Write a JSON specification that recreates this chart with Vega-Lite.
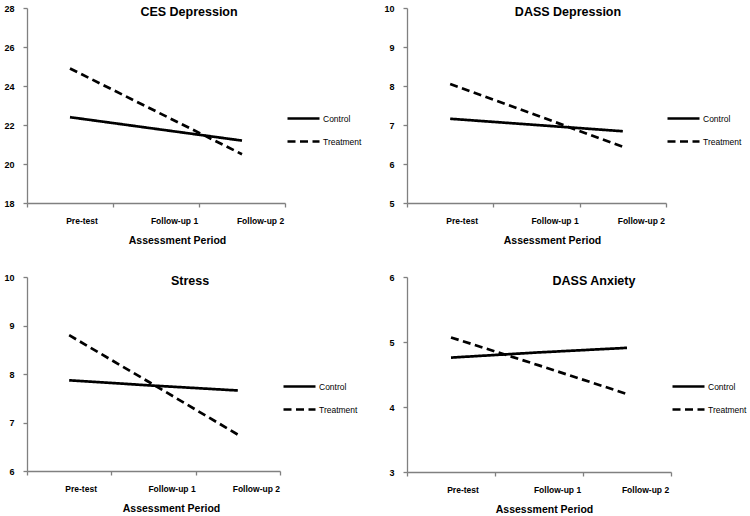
{
  "$schema": "https://vega.github.io/schema/vega-lite/v6.json",
  "padding": {"left": 3, "top": 4, "right": 0, "bottom": 0},
  "background": "white",
  "config": {
    "font": "Liberation Sans",
    "view": {"stroke": null},
    "axis": {"grid": false, "domainColor": "#808080", "tickColor": "#808080", "tickSize": 4, "labelColor": "#000", "titleColor": "#000", "labelFontWeight": "bold", "domainWidth": 1.3, "tickWidth": 1.3},
    "axisX": {"tickBand": "extent", "labelAngle": 0, "labelFontSize": 8.5, "labelPadding": 9, "labelOffset": {"condition": {"test": "datum.value === 'Pre-test'", "value": 11.5}, "value": 18}, "titleFontSize": 10.5, "titleFontWeight": "bold", "titleY": 37, "titleBaseline": "middle"},
    "axisY": {"labelFontSize": 9, "labelPadding": 9, "title": null},
    "title": {"fontSize": 12.5, "fontWeight": "bold", "color": "#000", "frame": "group", "anchor": "middle", "offset": -14},
    "legend": {"orient": "none", "title": null, "symbolType": "stroke", "symbolSize": 1024, "symbolStrokeWidth": 2.6, "symbolStrokeColor": "#000", "labelFontSize": 8.5, "labelOffset": 2, "padding": 0, "rowPadding": -11, "labelColor": "#000"}
  },
  "datasets": {
    "scores": [
      {"measure": "CES Depression", "group": "Control", "period": "Pre-test", "score": 22.4},
      {"measure": "CES Depression", "group": "Control", "period": "Follow-up 1", "score": 21.8},
      {"measure": "CES Depression", "group": "Control", "period": "Follow-up 2", "score": 21.2},
      {"measure": "CES Depression", "group": "Treatment", "period": "Pre-test", "score": 24.9},
      {"measure": "CES Depression", "group": "Treatment", "period": "Follow-up 1", "score": 22.7},
      {"measure": "CES Depression", "group": "Treatment", "period": "Follow-up 2", "score": 20.5},
      {"measure": "DASS Depression", "group": "Control", "period": "Pre-test", "score": 7.16},
      {"measure": "DASS Depression", "group": "Control", "period": "Follow-up 1", "score": 7.0},
      {"measure": "DASS Depression", "group": "Control", "period": "Follow-up 2", "score": 6.84},
      {"measure": "DASS Depression", "group": "Treatment", "period": "Pre-test", "score": 8.05},
      {"measure": "DASS Depression", "group": "Treatment", "period": "Follow-up 1", "score": 7.25},
      {"measure": "DASS Depression", "group": "Treatment", "period": "Follow-up 2", "score": 6.44},
      {"measure": "Stress", "group": "Control", "period": "Pre-test", "score": 7.87},
      {"measure": "Stress", "group": "Control", "period": "Follow-up 1", "score": 7.76},
      {"measure": "Stress", "group": "Control", "period": "Follow-up 2", "score": 7.66},
      {"measure": "Stress", "group": "Treatment", "period": "Pre-test", "score": 8.8},
      {"measure": "Stress", "group": "Treatment", "period": "Follow-up 1", "score": 7.78},
      {"measure": "Stress", "group": "Treatment", "period": "Follow-up 2", "score": 6.75},
      {"measure": "DASS Anxiety", "group": "Control", "period": "Pre-test", "score": 4.76},
      {"measure": "DASS Anxiety", "group": "Control", "period": "Follow-up 1", "score": 4.84},
      {"measure": "DASS Anxiety", "group": "Control", "period": "Follow-up 2", "score": 4.91},
      {"measure": "DASS Anxiety", "group": "Treatment", "period": "Pre-test", "score": 5.07},
      {"measure": "DASS Anxiety", "group": "Treatment", "period": "Follow-up 1", "score": 4.64},
      {"measure": "DASS Anxiety", "group": "Treatment", "period": "Follow-up 2", "score": 4.2}
    ]
  },
  "columns": 2,
  "bounds": "flush",
  "align": "all",
  "spacing": {"column": 116, "row": 74},
  "resolve": {"scale": {"strokeDash": "independent", "y": "independent", "x": "independent"}, "legend": {"strokeDash": "independent"}, "axis": {"x": "independent", "y": "independent"}},
  "concat": [
    {
      "width": 258, "height": 195,
      "title": {"text": "CES Depression", "dx": 33},
      "data": {"name": "scores"},
      "transform": [{"filter": "datum.measure === 'CES Depression'"}],
      "mark": {"type": "line", "color": "#000", "strokeWidth": 2.7},
      "encoding": {
        "x": {"field": "period", "type": "ordinal", "sort": ["Pre-test", "Follow-up 1", "Follow-up 2"], "scale": {"type": "band", "paddingInner": 0, "paddingOuter": 0}, "bandPosition": 0.5, "axis": {"title": "Assessment Period", "titleX": 150}},
        "y": {"field": "score", "type": "quantitative", "scale": {"domain": [18, 28], "nice": false, "zero": false}, "axis": {"values": [18, 20, 22, 24, 26, 28]}},
        "strokeDash": {"field": "group", "type": "nominal", "scale": {"domain": ["Control", "Treatment"], "range": [[1, 0], [8, 4.5]]}, "legend": {"legendX": 259, "legendY": 93}}
      }
    },
    {
      "width": 259, "height": 195,
      "title": {"text": "DASS Depression", "dx": 31.5},
      "data": {"name": "scores"},
      "transform": [{"filter": "datum.measure === 'DASS Depression'"}],
      "mark": {"type": "line", "color": "#000", "strokeWidth": 2.7},
      "encoding": {
        "x": {"field": "period", "type": "ordinal", "sort": ["Pre-test", "Follow-up 1", "Follow-up 2"], "scale": {"type": "band", "paddingInner": 0, "paddingOuter": 0}, "bandPosition": 0.5, "axis": {"title": "Assessment Period", "titleX": 145}},
        "y": {"field": "score", "type": "quantitative", "scale": {"domain": [5, 10], "nice": false, "zero": false}, "axis": {"values": [5, 6, 7, 8, 9, 10]}},
        "strokeDash": {"field": "group", "type": "nominal", "scale": {"domain": ["Control", "Treatment"], "range": [[1, 0], [8, 4.5]]}, "legend": {"legendX": 259, "legendY": 93}}
      }
    },
    {
      "width": 253, "height": 194,
      "title": {"text": "Stress", "dx": 36.5},
      "data": {"name": "scores"},
      "transform": [{"filter": "datum.measure === 'Stress'"}],
      "mark": {"type": "line", "color": "#000", "strokeWidth": 2.7},
      "encoding": {
        "x": {"field": "period", "type": "ordinal", "sort": ["Pre-test", "Follow-up 1", "Follow-up 2"], "scale": {"type": "band", "paddingInner": 0, "paddingOuter": 0}, "bandPosition": 0.5, "axis": {"title": "Assessment Period", "titleX": 144}},
        "y": {"field": "score", "type": "quantitative", "scale": {"domain": [6, 10], "nice": false, "zero": false}, "axis": {"values": [6, 7, 8, 9, 10]}},
        "strokeDash": {"field": "group", "type": "nominal", "scale": {"domain": ["Control", "Treatment"], "range": [[1, 0], [8, 4.5]]}, "legend": {"legendX": 255, "legendY": 92}}
      }
    },
    {
      "width": 264, "height": 195,
      "title": {"text": "DASS Anxiety", "dx": 55},
      "data": {"name": "scores"},
      "transform": [{"filter": "datum.measure === 'DASS Anxiety'"}],
      "mark": {"type": "line", "color": "#000", "strokeWidth": 2.7},
      "encoding": {
        "x": {"field": "period", "type": "ordinal", "sort": ["Pre-test", "Follow-up 1", "Follow-up 2"], "scale": {"type": "band", "paddingInner": 0, "paddingOuter": 0}, "bandPosition": 0.5, "axis": {"title": "Assessment Period", "titleX": 137}},
        "y": {"field": "score", "type": "quantitative", "scale": {"domain": [3, 6], "nice": false, "zero": false}, "axis": {"values": [3, 4, 5, 6]}},
        "strokeDash": {"field": "group", "type": "nominal", "scale": {"domain": ["Control", "Treatment"], "range": [[1, 0], [8, 4.5]]}, "legend": {"legendX": 264, "legendY": 92}}
      }
    }
  ]
}
